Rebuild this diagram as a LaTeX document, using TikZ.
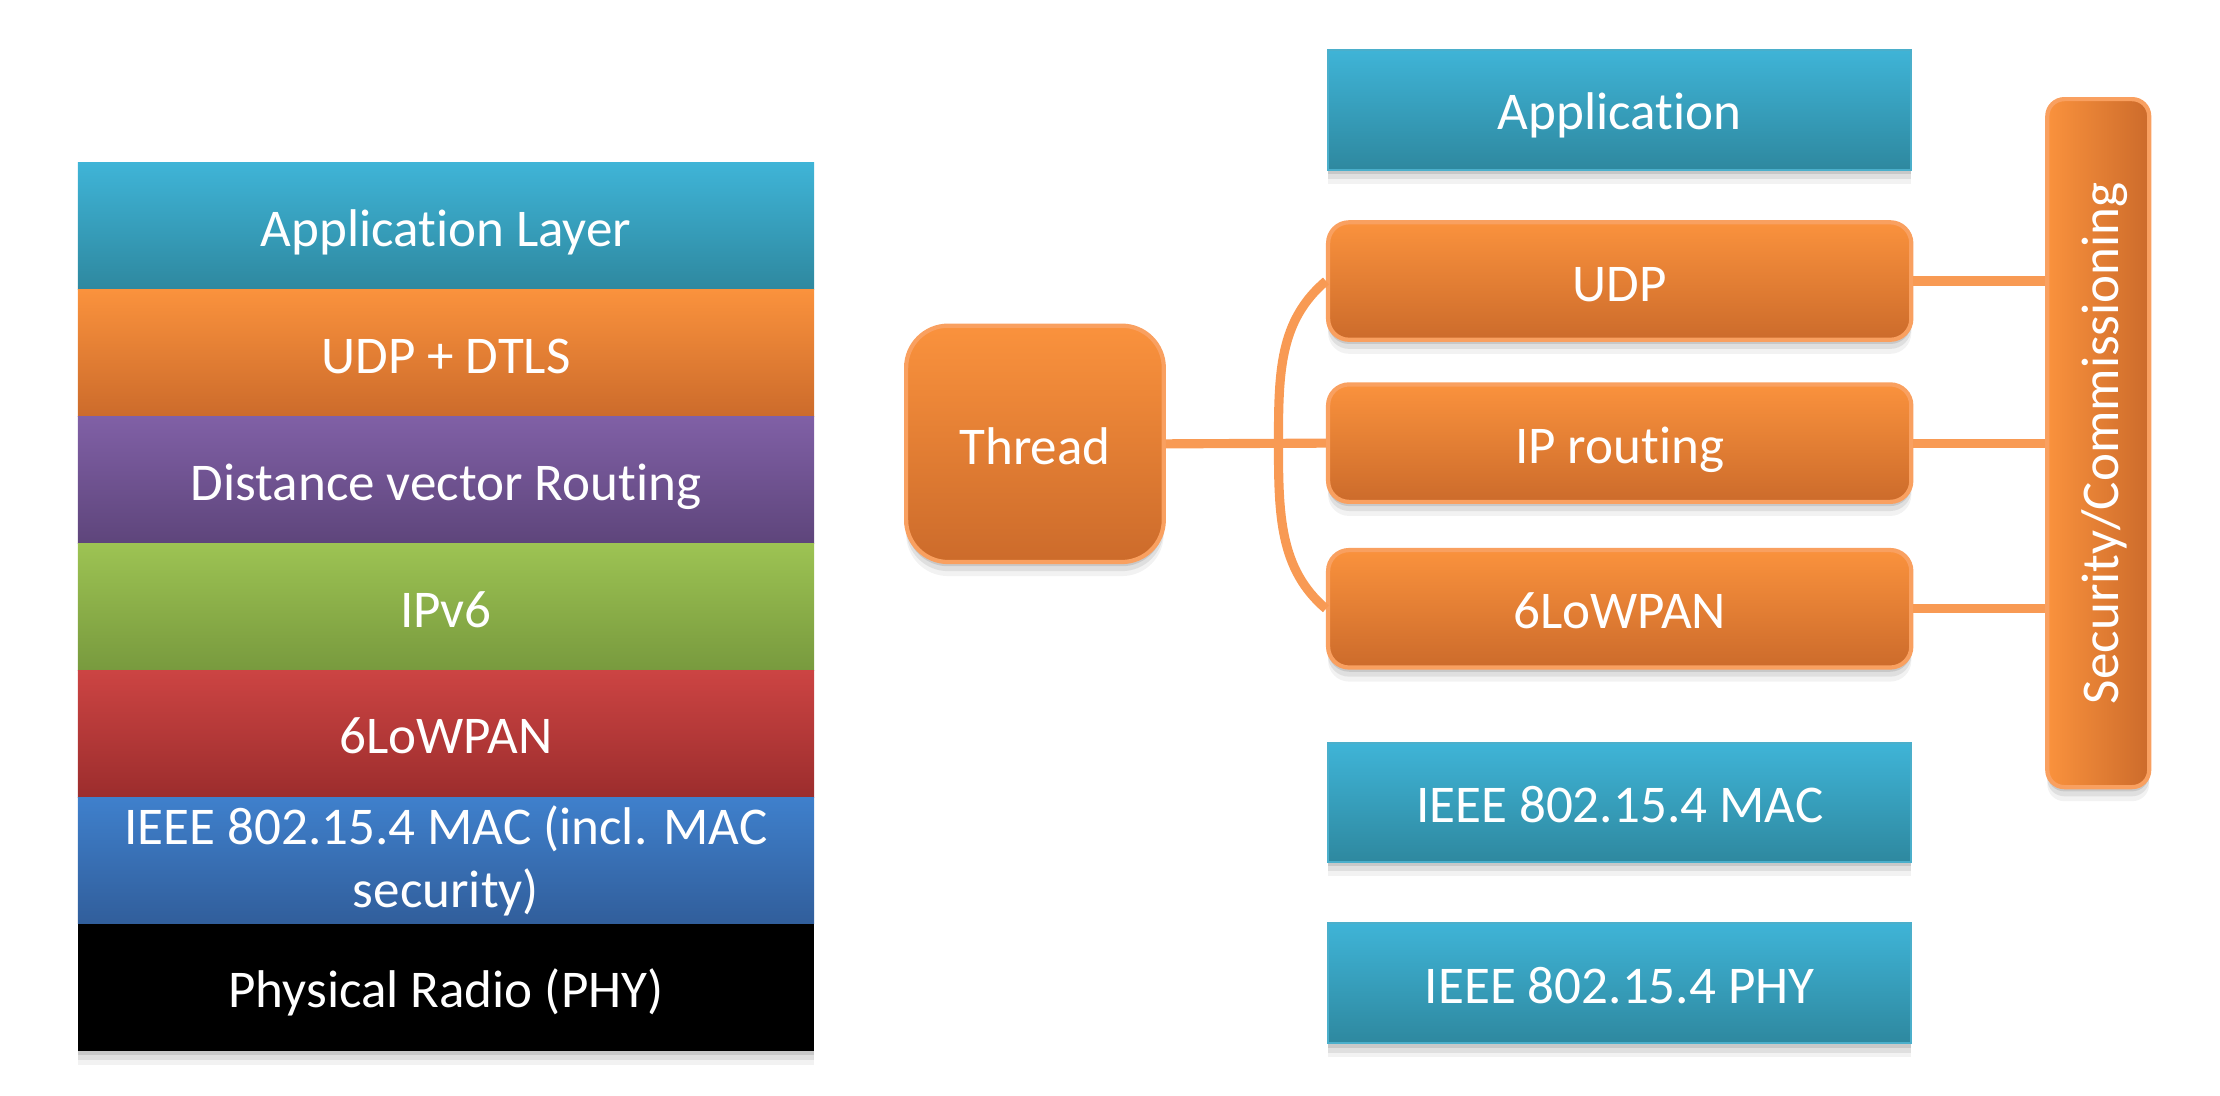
\documentclass[tikz,border=0pt]{standalone}
\usepackage{fontspec}
\setmainfont{Carlito}[Ligatures={NoCommon,NoRare}]
\usetikzlibrary{shadows}
\definecolor{tealT}{HTML}{3FB4D7}
\definecolor{tealB}{HTML}{2E889F}
\definecolor{tealE}{HTML}{4BAFCB}
\definecolor{orT}{HTML}{FA923D}
\definecolor{orB}{HTML}{CC6B2B}
\definecolor{orE}{HTML}{F9A060}
\definecolor{orL}{HTML}{F89A54}
\definecolor{purT}{HTML}{8060A6}
\definecolor{purB}{HTML}{5E457B}
\definecolor{grnT}{HTML}{9DC353}
\definecolor{grnB}{HTML}{789A3E}
\definecolor{redT}{HTML}{CC4443}
\definecolor{redB}{HTML}{9C2D2D}
\definecolor{bluT}{HTML}{3F80CC}
\definecolor{bluB}{HTML}{315E9B}
\begin{document}
\begin{tikzpicture}[x=0.014158cm, y=-0.014158cm,
  lbl/.style={text=white, font=\fontsize{15.1pt}{18pt}\selectfont, inner sep=0pt, align=center},
  onel/.style={text height=14.5pt, text depth=3pt},
  softshadow/.style={
    drop shadow={shadow xshift=0pt, shadow yshift=-1.2pt, opacity=0.10, fill=black},
    drop shadow={shadow xshift=0pt, shadow yshift=-2.6pt, opacity=0.08, fill=black},
    drop shadow={shadow xshift=0pt, shadow yshift=-4pt, opacity=0.05, fill=black}},
  layer/.style={lbl, rectangle, minimum width=7.362cm, minimum height=1.2686cm},
  tealbox/.style={lbl, onel, rectangle, minimum width=5.833cm, minimum height=1.2cm,
    top color=tealT, bottom color=tealB, draw=tealE, line width=0.6pt, softshadow},
  orbox/.style={lbl, onel, rectangle, rounded corners=0.21cm, minimum width=5.833cm, minimum height=1.175cm,
    top color=orT, bottom color=orB, draw=orE, line width=1.2pt, softshadow},
  link/.style={draw=orL, line width=2.6pt}
]
\useasboundingbox (0,0) rectangle (1568,774);

% left stack
\fill[white, softshadow] (55,115) rectangle (575,742);
\node[layer, onel, top color=tealT, bottom color=tealB] (appl) at (315,159.8) {Application Layer};
\node[layer, onel, top color=orT, bottom color=orB] (udpd) at (315,249.4) {UDP + DTLS};
\node[layer, onel, top color=purT, bottom color=purB] (dvr) at (315,339) {Distance vector Routing};
\node[layer, onel, top color=grnT, bottom color=grnB] (ipv6) at (315,428.6) {IPv6};
\node[layer, onel, top color=redT, bottom color=redB] (lowl) at (315,518.2) {6LoWPAN};
\node[layer, top color=bluT, bottom color=bluB] (macl) at (315,607.8) {IEEE 802.15.4 MAC (incl. MAC\\security)};
\node[layer, onel, fill=black] (phyl) at (315,697.4) {Physical Radio (PHY)};

% right side
\node[tealbox, minimum height=1.203cm] (app) at (1144,77.5) {Application};
\node[orbox] (udp) at (1144,198.5) {UDP};
\node[orbox] (iproute) at (1144,313) {IP routing};
\node[orbox] (lowpan) at (1144,430) {6LoWPAN};
\node[tealbox, minimum height=1.19cm] (mac) at (1144,567) {IEEE 802.15.4 MAC};
\node[tealbox, minimum height=1.203cm] (phy) at (1144,694.5) {IEEE 802.15.4 PHY};

\node[orbox, rounded corners=0.42cm, minimum width=2.577cm, minimum height=2.364cm] (thread) at (731,313.5) {Thread};

\node[orbox, rotate=90, rounded corners=0.17cm, minimum width=6.881cm, minimum height=1.019cm,
      left color=orT, right color=orB] (sec) at (1482,313) {Security/Commissioning};

% connectors
\coordinate (brk) at (903,313);
\draw[link] (thread.east) -- (iproute.west);
\draw[link] (udp.west) .. controls +(-33,28) and +(0,-50) .. (brk)
            .. controls +(0,50) and +(-33,-28) .. (lowpan.west);
\draw[link] (udp.east) -- (udp.east -| sec.north);
\draw[link] (iproute.east) -- (iproute.east -| sec.north);
\draw[link] (lowpan.east) -- (lowpan.east -| sec.north);
\end{tikzpicture}
\end{document}
